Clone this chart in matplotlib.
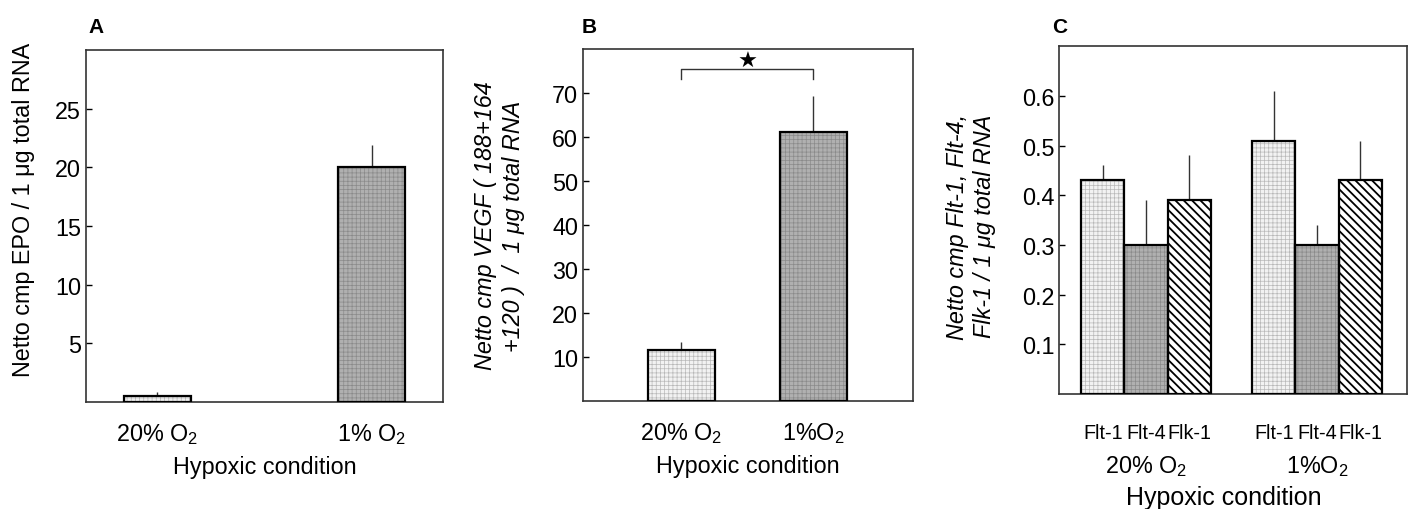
#basic imports
import numpy as np
import matplotlib
matplotlib.use("Agg")
import matplotlib.pyplot as plt
import matplotlib.transforms as mtransforms

plt.rcParams['font.family'] = ['Liberation Sans', 'DejaVu Sans']
plt.rcParams['mathtext.fontset'] = 'custom'
plt.rcParams['mathtext.rm'] = 'Liberation Sans'
plt.rcParams['mathtext.it'] = 'Liberation Sans:italic'

#Data
conditions = ["20% O$_2$", "1% O$_2$"]
conditions_b = ["20% O$_2$", "1%O$_2$"]
epo_mean = [0.5, 20.0]
epo_err = [0.35, 1.9]
vegf_mean = [11.5, 61.2]
vegf_err = [1.9, 8.2]
receptors = ["Flt-1", "Flt-4", "Flk-1"]
receptor_mean = {"20% O$_2$": [0.43, 0.30, 0.39], "1%O$_2$": [0.51, 0.30, 0.43]}
receptor_err = {"20% O$_2$": [0.03, 0.09, 0.09], "1%O$_2$": [0.10, 0.04, 0.08]}

#Bar styles (fill, hatch colour, hatch)
styles = {
    "light": dict(face="#f2f2f2", hcol="#b8b8b8", hatch="++++", hlw=0.5),
    "dark": dict(face="#b0b0b0", hcol="#8a8a8a", hatch="++++", hlw=0.5),
    "stripe": dict(face="white", hcol="black", hatch="\\\\\\\\", hlw=1.3),
}

FS = 16.8


def draw_bars(ax, x, h, width, style, err=None):
    st = styles[style]
    with plt.rc_context({"hatch.linewidth": st["hlw"]}):
        bars = ax.bar(x, h, width, color=st["face"], edgecolor=st["hcol"],
                      hatch=st["hatch"], linewidth=0, zorder=2)
        for b in bars:
            if hasattr(b, "set_hatch_linewidth"):
                b.set_hatch_linewidth(st["hlw"])
    ax.bar(x, h, width, fill=False, edgecolor="black", linewidth=1.6, zorder=3)
    if err is not None:
        ax.errorbar(x, h, yerr=[np.zeros(len(err)), err], fmt="none",
                    ecolor="#333333", elinewidth=1.0, capsize=0, zorder=1)


def style_axis(ax):
    for s in ax.spines.values():
        s.set_linewidth(1.2)
        s.set_color("#333333")
    ax.tick_params(axis="y", direction="in", length=4, width=1, labelsize=FS)
    ax.tick_params(axis="x", length=0, labelsize=FS, pad=14)


fig = plt.figure(figsize=(14.09, 5.10), dpi=100)

#Panel A
axA = fig.add_axes([0.061, 0.2098, 0.2534, 0.690])
xa = np.arange(len(conditions))
draw_bars(axA, xa[0:1], epo_mean[0:1], 0.31, "light", epo_err[0:1])
draw_bars(axA, xa[1:2], epo_mean[1:2], 0.31, "dark", epo_err[1:2])
axA.set_xlim(-1/3, 4/3)
axA.set_ylim(0, 30)
axA.set_yticks([5, 10, 15, 20, 25])
axA.set_xticks(xa)
axA.set_xticklabels(conditions)
style_axis(axA)
axA.set_xlabel("Hypoxic condition", fontsize=FS, labelpad=6)
axA.set_ylabel("Netto cmp EPO / 1 μg total RNA", fontsize=FS)
axA.yaxis.set_label_coords(-0.143, 0.55)
fig.text(0.0625, 0.935, "A", fontsize=15, fontweight="bold")

#Panel B
axB = fig.add_axes([0.4138, 0.2118, 0.2342, 0.690])
xb = np.arange(len(conditions_b))
draw_bars(axB, xb[0:1], vegf_mean[0:1], 0.508, "light", vegf_err[0:1])
draw_bars(axB, xb[1:2], vegf_mean[1:2], 0.508, "dark", vegf_err[1:2])
axB.set_xlim(-0.745, 1.755)
axB.set_ylim(0, 80)
axB.set_yticks([10, 20, 30, 40, 50, 60, 70])
axB.set_xticks(xb)
axB.set_xticklabels(conditions_b)
style_axis(axB)
axB.set_xlabel("Hypoxic condition", fontsize=FS, labelpad=6)
axB.set_ylabel("Netto cmp VEGF ( 188+164\n+120 )  /  1 μg total RNA",
               fontsize=FS, style="italic", linespacing=1.25)
axB.yaxis.set_label_coords(-0.176, 0.5)
#significance bracket
axB.plot([xb[0], xb[0], xb[1], xb[1]], [73.3, 75.5, 75.5, 73.3],
         color="#333333", linewidth=1.0)
axB.text((xb[0] + xb[1]) / 2, 77.4, "★", ha="center", va="center",
         fontsize=16, family="DejaVu Sans")
fig.text(0.4125, 0.935, "B", fontsize=15, fontweight="bold")

#Panel C
axC = fig.add_axes([0.7516, 0.2255, 0.247, 0.682])
groups = list(receptor_mean.keys())
w = 0.253
xg = np.arange(len(groups))
bar_styles = ["light", "dark", "stripe"]
tick_pos = []
tick_lab = []
for i, g in enumerate(groups):
    for j, r in enumerate(receptors):
        xpos = xg[i] + (j - 1) * w
        draw_bars(axC, [xpos], [receptor_mean[g][j]], w, bar_styles[j],
                  [receptor_err[g][j]])
        tick_pos.append(xpos)
        tick_lab.append(r)
axC.set_xlim(-0.509, 1.526)
axC.set_ylim(0, 0.7)
axC.set_yticks([0.1, 0.2, 0.3, 0.4, 0.5, 0.6])
axC.set_xticks(tick_pos)
axC.set_xticklabels(tick_lab)
style_axis(axC)
axC.tick_params(axis="x", labelsize=14.2, pad=21)
trans = mtransforms.blended_transform_factory(axC.transData, axC.transAxes)
for i, g in enumerate(groups):
    axC.text(xg[i], -0.205, g, transform=trans, ha="center", va="center",
             fontsize=FS)
axC.set_xlabel("Hypoxic condition", fontsize=18)
axC.xaxis.set_label_coords(0.474, -0.295)
axC.xaxis.label.set_va("center")
axC.set_ylabel("Netto cmp Flt-1, Flt-4,\nFlk-1 / 1 μg total RNA",
               fontsize=FS, style="italic", linespacing=1.25)
axC.yaxis.set_label_coords(-0.181, 0.484)
fig.text(0.747, 0.935, "C", fontsize=15, fontweight="bold")

fig.savefig("out.png", dpi=100)
